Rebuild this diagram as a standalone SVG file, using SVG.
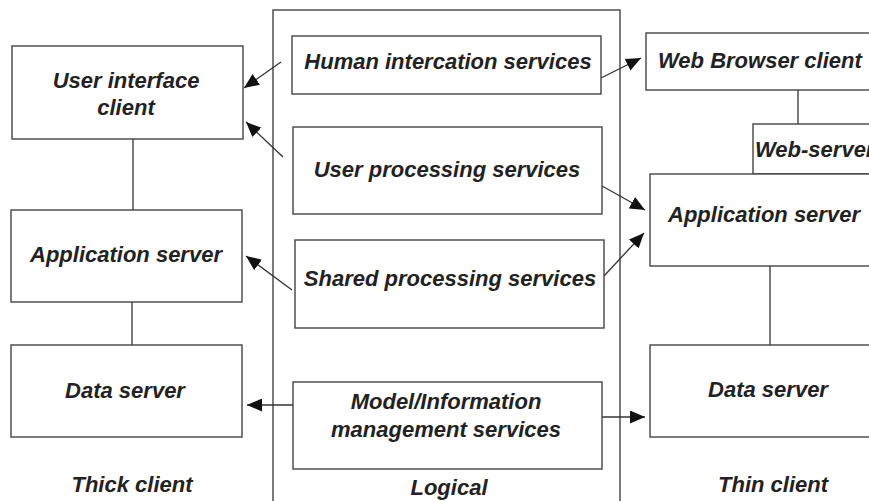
<svg xmlns="http://www.w3.org/2000/svg" width="869" height="501" viewBox="0 0 869 501">
<defs>
<style>
.box{fill:#fff;stroke:#444;stroke-width:1.4}
.ln{fill:none;stroke:#333;stroke-width:1.3}
.t{font-family:"Liberation Sans",Arial,sans-serif;font-weight:bold;font-style:italic;font-size:22px;fill:#222;text-anchor:middle}
.s{text-anchor:start}
</style>
<marker id="ah" viewBox="0 0 10 10" refX="10" refY="5" markerWidth="15" markerHeight="13" markerUnits="userSpaceOnUse" orient="auto" preserveAspectRatio="none">
<path d="M0,0 L10,5 L0,10 z" fill="#111"/>
</marker>
</defs>
<rect width="869" height="501" fill="#fff"/>
<g id="logical">
<rect class="box" x="273" y="10" width="347" height="500"/>
<text class="t" x="449" y="495">Logical</text>
</g>
<g id="connectors">
<line class="ln" x1="133" y1="139" x2="133" y2="210"/>
<line class="ln" x1="132" y1="302" x2="132" y2="345"/>
<line class="ln" x1="798" y1="90" x2="798" y2="124"/>
<line class="ln" x1="770" y1="266" x2="770" y2="345"/>
<line class="ln" x1="281" y1="62" x2="244" y2="88" marker-end="url(#ah)"/>
<line class="ln" x1="283" y1="157" x2="246" y2="122" marker-end="url(#ah)"/>
<line class="ln" x1="292" y1="290" x2="246" y2="256" marker-end="url(#ah)"/>
<line class="ln" x1="293" y1="405" x2="247" y2="405" marker-end="url(#ah)"/>
<line class="ln" x1="601" y1="78" x2="641" y2="58" marker-end="url(#ah)"/>
<line class="ln" x1="602" y1="186" x2="645" y2="210" marker-end="url(#ah)"/>
<line class="ln" x1="604" y1="276" x2="644" y2="233" marker-end="url(#ah)"/>
<line class="ln" x1="602" y1="417" x2="645" y2="417" marker-end="url(#ah)"/>
</g>
<g id="ui-client">
<rect class="box" x="12" y="46" width="231" height="93"/>
<text class="t" x="126" y="88">User interface</text>
<text class="t" x="126" y="115">client</text>
</g>
<g id="app-server-left">
<rect class="box" x="11" y="210" width="231" height="92"/>
<text class="t" x="126" y="262">Application server</text>
</g>
<g id="data-server-left">
<rect class="box" x="11" y="345" width="231" height="92"/>
<text class="t" x="125" y="398">Data server</text>
</g>
<text class="t" x="132" y="492">Thick client</text>
<g id="human">
<rect class="box" x="292" y="36" width="309" height="58"/>
<text class="t" x="448" y="69">Human intercation services</text>
</g>
<g id="user-proc">
<rect class="box" x="293" y="127" width="309" height="87"/>
<text class="t" x="447" y="177">User processing services</text>
</g>
<g id="shared-proc">
<rect class="box" x="295" y="240" width="309" height="88"/>
<text class="t" x="450" y="286">Shared processing services</text>
</g>
<g id="model-info">
<rect class="box" x="293" y="382" width="309" height="87"/>
<text class="t" x="446" y="409">Model/Information</text>
<text class="t" x="446" y="437">management services</text>
</g>
<g id="web-browser">
<rect class="box" x="646" y="33" width="240" height="57"/>
<text class="t s" x="658" y="68">Web Browser client</text>
</g>
<g id="web-server">
<rect class="box" x="753" y="124" width="140" height="50"/>
<text class="t s" x="755" y="157">Web-server</text>
</g>
<g id="app-server-right">
<rect class="box" x="650" y="174" width="240" height="92"/>
<text class="t s" x="668" y="222">Application server</text>
</g>
<g id="data-server-right">
<rect class="box" x="650" y="345" width="240" height="92"/>
<text class="t" x="768" y="397">Data server</text>
</g>
<text class="t" x="773" y="492">Thin client</text>
</svg>
